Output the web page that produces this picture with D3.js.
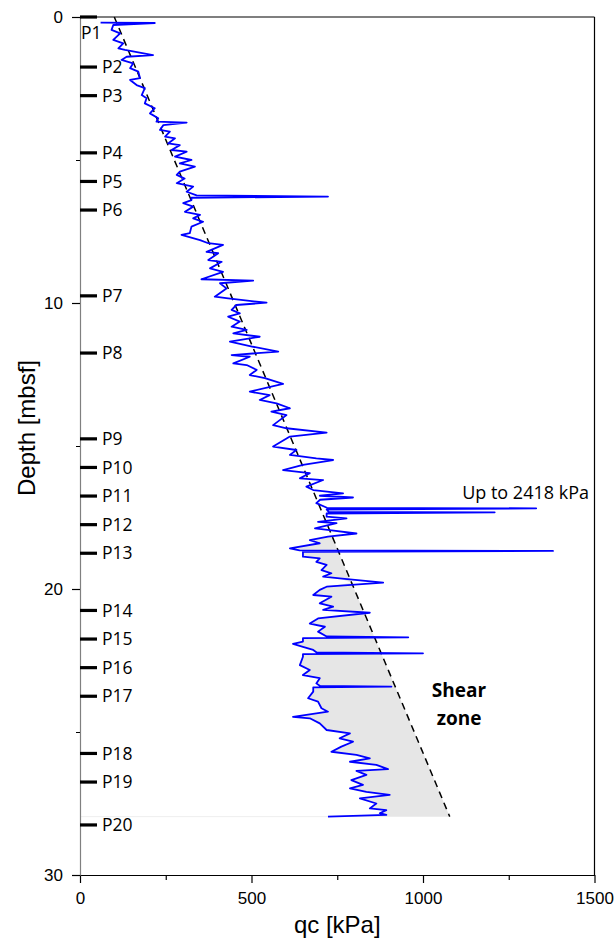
<!DOCTYPE html>
<html><head><meta charset="utf-8">
<script src="https://cdn.jsdelivr.net/npm/d3@7"></script>
<style>body{margin:0;background:#fff}svg{display:block}</style>
</head><body><svg id="c" width="615" height="941"></svg>
<script>
// CPT profile: depth [mbsf] and cone resistance qc [kPa]
const depth = [0.20,0.21,0.28,0.45,0.57,0.80,0.92,1.10,1.15,1.33,1.39,1.50,1.62,1.79,1.91,2.14,2.20,2.38,2.49,2.73,2.84,3.02,3.19,3.37,3.54,3.66,3.69,3.78,3.95,4.01,4.18,4.24,4.42,4.48,4.65,4.71,4.88,5.00,5.12,5.23,5.41,5.52,5.65,5.81,5.93,6.11,6.24,6.28,6.32,6.40,6.51,6.63,6.81,6.92,7.04,7.16,7.33,7.56,7.62,7.80,7.91,7.97,8.21,8.26,8.50,8.56,8.79,8.91,9.17,9.22,9.31,9.49,9.78,9.84,9.99,10.07,10.24,10.36,10.48,10.65,10.83,10.94,11.06,11.18,11.35,11.53,11.70,11.82,11.88,12.11,12.17,12.34,12.52,12.63,12.83,13.10,13.22,13.39,13.51,13.68,13.80,13.92,14.27,14.38,14.53,14.67,15.02,15.14,15.31,15.43,15.49,15.66,15.84,15.95,16.13,16.19,16.42,16.54,16.66,16.74,16.80,16.88,17.00,17.16,17.18,17.22,17.30,17.32,17.36,17.47,17.53,17.65,17.70,17.88,17.94,18.06,18.17,18.29,18.40,18.58,18.65,18.67,18.70,18.87,18.93,19.05,19.16,19.34,19.45,19.57,19.63,19.78,19.92,20.03,20.21,20.27,20.50,20.62,20.73,20.83,21.03,21.21,21.32,21.49,21.66,21.69,21.72,21.84,21.92,22.02,22.13,22.22,22.25,22.28,22.37,22.66,22.83,23.01,23.12,23.30,23.39,23.41,23.44,23.59,23.82,23.94,24.17,24.29,24.47,24.52,24.70,24.93,25.05,25.22,25.34,25.51,25.69,25.80,25.92,26.04,26.15,26.30,26.36,26.50,26.68,26.85,26.97,27.09,27.20,27.32,27.50,27.67,27.73,27.84,27.90,27.96];
const qc = [60,218,97,92,117,97,126,112,131,213,136,121,155,146,170,175,146,165,189,180,194,189,218,204,228,223,311,243,233,262,248,277,257,291,267,311,277,325,291,335,291,282,305,282,330,311,340,723,325,325,301,330,306,350,330,359,325,320,296,350,374,417,369,403,374,413,379,417,354,505,408,427,393,432,544,456,442,466,432,466,442,486,447,524,437,505,578,442,495,447,486,515,495,539,592,495,553,524,573,612,558,602,563,602,719,612,563,631,612,689,738,650,592,670,641,709,660,680,767,699,796,700,689,720,1330,719,725,1209,719,719,777,694,748,685,728,806,723,670,699,612,640,1379,650,650,699,689,719,704,733,709,757,884,719,699,680,733,699,738,709,845,694,670,714,694,719,957,650,650,621,650,680,690,1000,650,650,641,670,650,699,689,700,908,680,680,665,694,704,723,621,670,699,719,787,757,796,762,733,806,845,787,864,898,806,835,791,825,787,835,903,816,864,845,893,874,893,723];

// trend line (dashed) end points
const trendDepth = [0, 27.96];
const trendQc = [100, 1078];

// penetration test markers
const markerNames = ["P1","P2","P3","P4","P5","P6","P7","P8","P9","P10","P11","P12","P13","P14","P15","P16","P17","P18","P19","P20"];
const markerDepths = [0,1.75,2.75,4.75,5.75,6.75,9.75,11.75,14.75,15.75,16.75,17.75,18.75,20.75,21.75,22.75,23.75,25.75,26.75,28.25];

const xTicks = [0,500,1000,1500];
const xMinor = [250,750,1250];
const yTicks = [0,10,20,30];
const yMinor = [5,15,25];
const shearTop = 18.17;

const svg = d3.select('#c');
const x = d3.scaleLinear().domain([0,1500]).range([80,594.5]);
const y = d3.scaleLinear().domain([0,30]).range([17,875]);
const trend = d => trendQc[0] + (trendQc[1]-trendQc[0])*(d-trendDepth[0])/(trendDepth[1]-trendDepth[0]);

// shear-zone shading
const idx = d3.range(depth.length).filter(i => depth[i] >= shearTop);
const poly = idx.map(i => [x(Math.min(qc[i], trend(depth[i]))), y(depth[i])]);
const last = depth[depth.length-1];
poly.push([x(trend(last)), y(last)]);
poly.push([x(trend(shearTop)), y(shearTop)]);
svg.append('path').attr('d', 'M' + poly.map(p=>p.join(',')).join('L') + 'Z')
  .attr('fill', '#e6e6e6').attr('stroke', 'none');
svg.append('line').attr('x1', x(0)).attr('x2', x(qc[qc.length-1])).attr('y1', y(last)).attr('y2', y(last))
  .attr('stroke', '#eeeeee').attr('stroke-width', 1);

// frame
svg.append('line').attr('x1', x(0)).attr('x2', x(1500)).attr('y1', y(0)).attr('y2', y(0)).attr('stroke','#000').attr('stroke-width',1.2);
svg.append('line').attr('x1', x(1500)).attr('x2', x(1500)).attr('y1', y(0)).attr('y2', y(30)).attr('stroke','#000').attr('stroke-width',1.2);

// dashed trend
svg.append('line').attr('x1', x(trendQc[0])).attr('y1', y(trendDepth[0])).attr('x2', x(trendQc[1])).attr('y2', y(trendDepth[1]))
  .attr('stroke', '#000').attr('stroke-width', 1.5).attr('stroke-dasharray', '7,5');

// qc curve
const line = d3.line().x(i => x(qc[i])).y(i => y(depth[i]));
svg.append('path').attr('d', line(d3.range(depth.length)))
  .attr('fill','none').attr('stroke','#0000ff').attr('stroke-width',1.8).attr('stroke-linejoin','round');

// axes
const fontAxis = '"Liberation Sans", Arial, sans-serif';
const gx = svg.append('g').attr('transform', `translate(0,${y(30)})`)
  .call(d3.axisBottom(x).tickValues(xTicks).tickSize(8).tickSizeOuter(0).tickPadding(9).tickFormat(d3.format('d')));
gx.select('.domain').attr('stroke','#000').attr('stroke-width',1.2);
gx.selectAll('.tick line').attr('stroke','#000').attr('stroke-width',1.2);
gx.selectAll('text').attr('font-family', fontAxis).attr('font-size', 17).attr('fill','#000');
svg.append('g').attr('transform', `translate(0,${y(30)})`)
  .call(d3.axisBottom(x).tickValues(xMinor).tickSize(5).tickSizeOuter(0).tickFormat(''))
  .call(g => g.select('.domain').remove())
  .selectAll('.tick line').attr('stroke','#000').attr('stroke-width',1.2);

const gy = svg.append('g').attr('transform', `translate(${x(0)},0)`)
  .call(d3.axisLeft(y).tickValues(yTicks).tickSize(8).tickSizeOuter(0).tickPadding(9).tickFormat(d3.format('d')));
gy.select('.domain').attr('stroke','#808080').attr('stroke-width',1.2);
gy.selectAll('.tick line').attr('stroke','#000').attr('stroke-width',1.2);
gy.selectAll('text').attr('font-family', fontAxis).attr('font-size', 17).attr('fill','#000');
svg.append('g').attr('transform', `translate(${x(0)},0)`)
  .call(d3.axisLeft(y).tickValues(yMinor).tickSize(4).tickSizeOuter(0).tickFormat(''))
  .call(g => g.select('.domain').remove())
  .selectAll('.tick line').attr('stroke','#000').attr('stroke-width',1);

// markers
const fontLab = '"Open Sans", "Noto Sans", sans-serif';
markerDepths.forEach((d,i) => {
  svg.append('line').attr('x1', x(0)).attr('x2', x(0)+17).attr('y1', y(d)).attr('y2', y(d))
    .attr('stroke','#000').attr('stroke-width',3.2);
  const t = svg.append('text').attr('font-family', fontLab).attr('font-size', 17.5).attr('fill','#000')
    .text(markerNames[i]);
  if (i === 0) t.attr('x', x(0)+1).attr('y', y(d)+16).attr('dy','0.35em');
  else t.attr('x', x(0)+22).attr('y', y(d)).attr('dy','0.35em');
});

// annotations
svg.append('text').attr('x', 589).attr('y', 493).attr('dy','0.35em').attr('text-anchor','end')
  .attr('font-family', fontLab).attr('font-size', 18).attr('fill','#000').text('Up to 2418 kPa');
const sz = svg.append('text').attr('font-family', fontLab).attr('font-size', 19).attr('font-weight','bold')
  .attr('text-anchor','middle').attr('fill','#000');
sz.append('tspan').attr('x', 459).attr('y', 690).attr('dy','0.35em').text('Shear');
sz.append('tspan').attr('x', 459).attr('y', 718).attr('dy','0.35em').text('zone');

// axis titles
svg.append('text').attr('x', (x(0)+x(1500))/2).attr('y', 925).attr('dy','0.35em').attr('text-anchor','middle')
  .attr('font-family', fontAxis).attr('font-size', 24).attr('fill','#000').text('qc [kPa]');
svg.append('text').attr('transform', 'translate(27,428) rotate(-90)').attr('dy','0.35em').attr('text-anchor','middle')
  .attr('font-family', fontAxis).attr('font-size', 24).attr('fill','#000').text('Depth [mbsf]');
</script></body></html>
